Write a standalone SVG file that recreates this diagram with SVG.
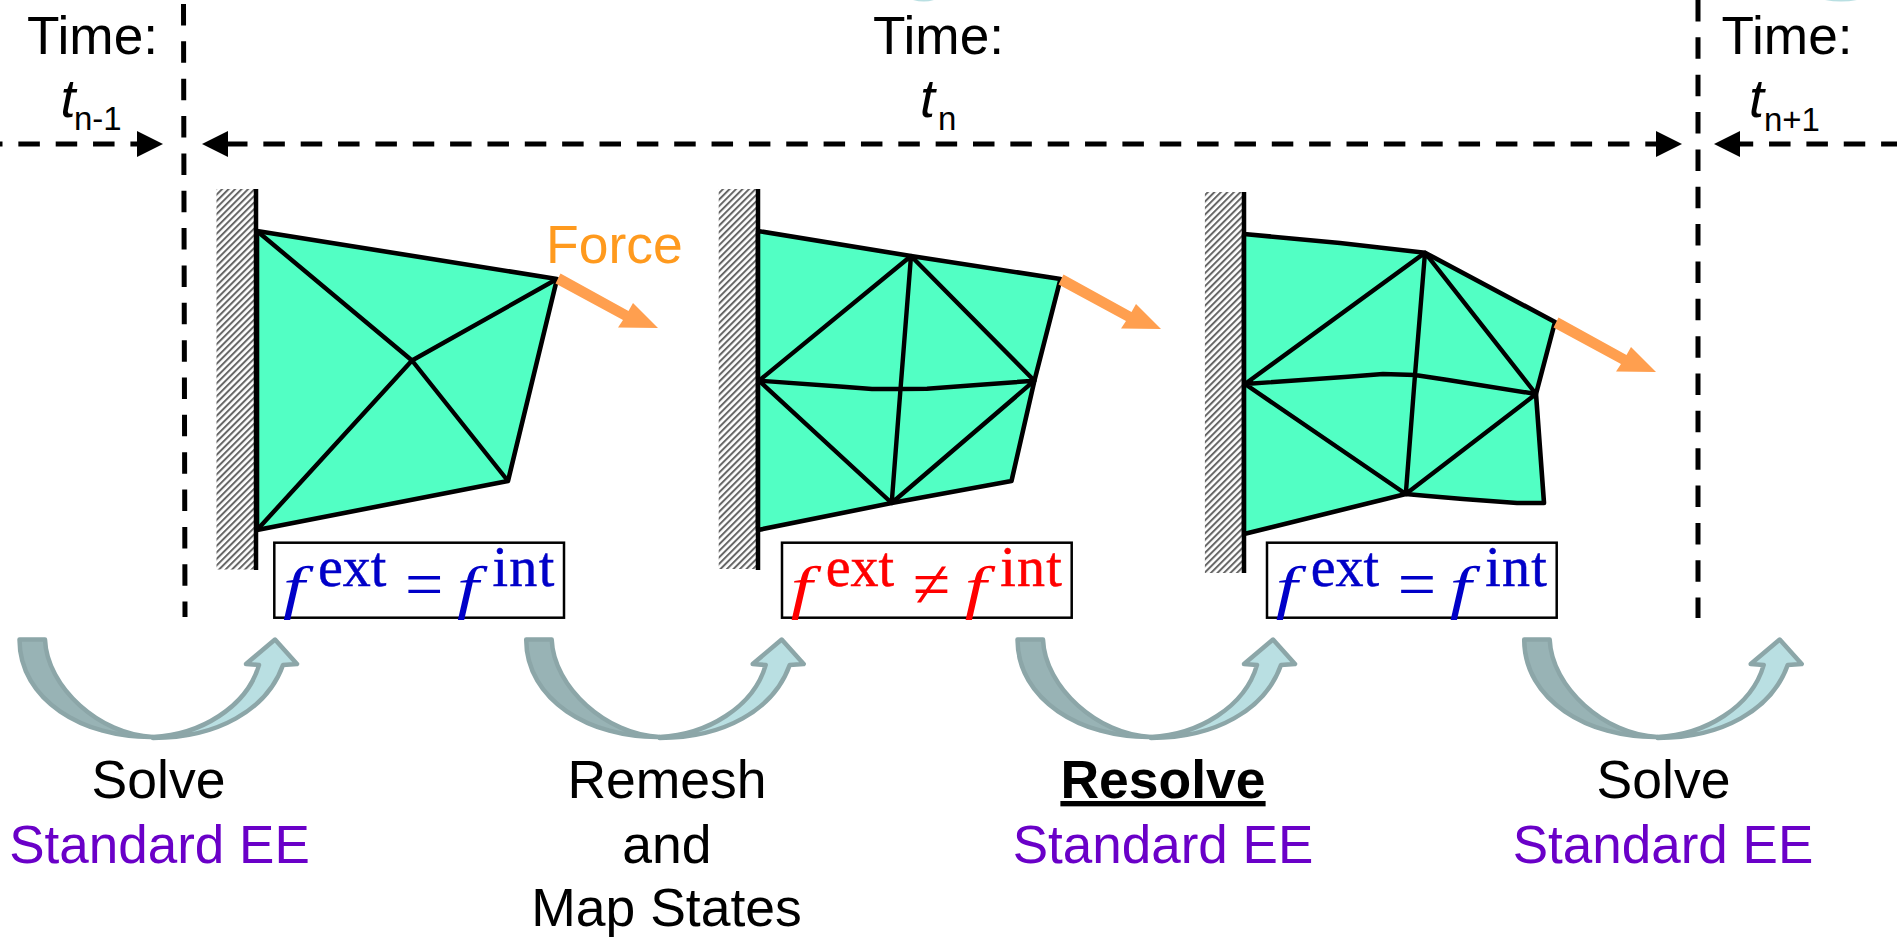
<svg xmlns="http://www.w3.org/2000/svg" xmlns:xlink="http://www.w3.org/1999/xlink" width="1897" height="937" viewBox="0 0 1897 937">
<style>
text{font-family:"Liberation Sans",Arial,sans-serif;font-size:53.5px;fill:#000}
.mid{text-anchor:middle}
.pur{fill:#6a00c8;font-size:53px}
.time{font-size:53.2px}
.tv{font-style:italic;font-size:54px}
.sub{font-size:33px}
.force{fill:#ff9a1e}
.m{font-family:"Liberation Serif","Times New Roman",serif;font-size:56px;stroke-width:.5}
.int{letter-spacing:1.3px}
.mi{font-style:italic;font-size:60px;stroke-width:0}
.op{font-size:68px;stroke-width:0}
.blue{fill:#0000c8;stroke:#0000c8}.red{fill:#ff0000;stroke:#ff0000}
.box{fill:#fff;stroke:#000;stroke-width:2.5}
.mesh{fill:#52ffc4;stroke:#000;stroke-width:4.6;stroke-linejoin:round}
.edge{fill:none;stroke:#000;stroke-width:4.4;stroke-linejoin:round}
.wl{stroke:#000;stroke-width:4.5}
.dash{fill:none;stroke:#000;stroke-width:5;stroke-dasharray:21.5 15.85}
.dk{fill:#98b3b5;stroke:#8ca6a8;stroke-width:4.5;stroke-linejoin:round}
.lt{fill:#b9dfe2;stroke:#8ca6a8;stroke-width:4.5;stroke-linejoin:round}
</style>
<defs>
<pattern id="hatch" width="4.6" height="4.6" patternUnits="userSpaceOnUse" patternTransform="rotate(-45)">
<rect width="4.6" height="4.6" fill="#fff"/><rect width="4.6" height="2" fill="#666"/>
</pattern>
<marker id="head" markerUnits="userSpaceOnUse" markerWidth="28" markerHeight="28" refX="2" refY="13" orient="auto-start-reverse" viewBox="0 0 28 28">
<path d="M0,0L26,13L0,26Z" fill="#000"/>
</marker>
<g id="curve">
<path class="dk" d="M19.5,639.5L45,639.5C46.7,687 100,735 153,737C83,738 19.5,700 19.5,639.5Z"/>
<path class="lt" d="M153,737C200,735 247,707 259,665L246,664L275,639.5L297,664L283,665C267,710 217,738 153,738Z"/>
</g>
<path id="farrow" fill="#ff9f4f" d="M560.5,273.6L628.5,310.9L633,303L658,328L618,327.5L623,319.9L555.5,283.4Z"/>
</defs>
<rect width="1897" height="937" fill="#fff"/>
<g id="slivers" fill="#b9dfe2">
<path d="M913,0H934Q924,3 913,0Z"/>
<path d="M1825,0H1857Q1841,3 1825,0Z"/>
</g>
<g id="connectors">
<path class="dash" d="M183.5,4L185,617"/>
<path class="dash" d="M1698,0V618"/>
<path class="dash" stroke-dashoffset="19" d="M0,144H139" marker-end="url(#head)"/>
<path class="dash" d="M226,144H1658" marker-start="url(#head)" marker-end="url(#head)"/>
<path class="dash" d="M1731.7,144H1897"/>
<path d="M1714,144L1740,131V157Z" fill="#000"/>
<use xlink:href="#curve" href="#curve"/>
<use xlink:href="#curve" href="#curve" x="506.7"/>
<use xlink:href="#curve" href="#curve" x="998"/>
<use xlink:href="#curve" href="#curve" x="1504.7"/>
</g>
<g id="mesh1">
<rect x="216.5" y="189" width="39" height="380.5" fill="url(#hatch)"/>
<line class="wl" x1="256" y1="189" x2="256" y2="570"/>
<path class="mesh" d="M257,231L557,279L508,481L257,530Z"/>
<path class="edge" d="M257,231L412,360.5L508,481M557,279L412,360.5L257,530"/>
<use xlink:href="#farrow" href="#farrow"/>
<text class="force" x="546" y="263">Force</text>
</g>
<g id="mesh2">
<rect x="718.7" y="189" width="39" height="380" fill="url(#hatch)"/>
<line class="wl" x1="758" y1="189" x2="758" y2="570"/>
<path class="mesh" d="M758,231L911,256L1060.5,279L1034.4,380.7L1011.5,481L891.7,503L758,530Z"/>
<path class="edge" d="M759,380.7L911,256L1034.4,380.7L891.7,503L759,380.7M911,256L900.5,389L891.7,503M759,380.7L843,386.7L872,389L900.5,389L927,388.7L977,385L1034.4,380.7"/>
<use xlink:href="#farrow" href="#farrow" x="503" y="1"/>
</g>
<g id="mesh3">
<rect x="1204.9" y="192" width="39" height="381" fill="url(#hatch)"/>
<line class="wl" x1="1244" y1="192" x2="1244" y2="573"/>
<path class="mesh" d="M1244,234L1340,243L1425,252.7L1555,322L1536,394L1544,503L1517,503L1463,499L1425,495.7L1405.8,494L1244,534Z"/>
<path class="edge" d="M1245,384L1425,252.7L1536,394L1405.8,494L1245,384M1425,252.7L1415,375L1405.8,494M1245,384L1348,376.7L1383,374L1415,375L1448,380L1536,394"/>
<use xlink:href="#farrow" href="#farrow" x="998" y="44"/>
</g>
<g id="eq1">
<rect class="box" x="274.3" y="542.7" width="289.7" height="75"/>
<text class="m mi blue" transform="translate(283 607) scale(1.3 1)">f</text><text class="m blue" x="318" y="586">ext</text>
<text class="m op blue" x="405" y="606.5">=</text>
<text class="m mi blue" transform="translate(457 607) scale(1.3 1)">f</text><text class="m int blue" x="492.5" y="586">int</text>
</g>
<g id="eq2">
<rect class="box" x="782" y="542.7" width="289.7" height="75"/>
<text class="m mi red" transform="translate(790.7 607) scale(1.3 1)">f</text><text class="m red" x="825.7" y="586">ext</text>
<text class="m op red" x="912.7" y="606.5">≠</text>
<text class="m mi red" transform="translate(964.7 607) scale(1.3 1)">f</text><text class="m int red" x="1000.2" y="586">int</text>
</g>
<g id="eq3">
<rect class="box" x="1267" y="542.7" width="289.7" height="75"/>
<text class="m mi blue" transform="translate(1275.7 607) scale(1.3 1)">f</text><text class="m blue" x="1310.7" y="586">ext</text>
<text class="m op blue" x="1397.7" y="606.5">=</text>
<text class="m mi blue" transform="translate(1449.7 607) scale(1.3 1)">f</text><text class="m int blue" x="1485.2" y="586">int</text>
</g>
<g id="time1">
<text class="time" x="27" y="53.5">Time:</text>
<text class="tv" x="60.5" y="117">t</text><text class="sub" x="74" y="130">n-1</text>
</g>
<g id="time2">
<text class="time" x="873" y="53.5">Time:</text>
<text class="tv" x="920" y="117">t</text><text class="sub" x="938" y="130">n</text>
</g>
<g id="time3">
<text class="time" x="1721.5" y="53.5">Time:</text>
<text class="tv" x="1749" y="117">t</text><text class="sub" x="1764" y="130.5">n+1</text>
</g>
<g id="label1">
<text class="mid" x="158.5" y="798">Solve</text>
<text class="mid pur" x="159.5" y="862.7">Standard EE</text>
</g>
<g id="label2">
<text class="mid" x="667" y="798">Remesh</text>
<text class="mid" x="667" y="862.7">and</text>
<text class="mid" x="666.5" y="925.7">Map States</text>
</g>
<g id="label3">
<text class="mid" x="1163" y="798" font-weight="bold" text-decoration="underline">Resolve</text>
<text class="mid pur" x="1163" y="862.7">Standard EE</text>
</g>
<g id="label4">
<text class="mid" x="1663.5" y="798">Solve</text>
<text class="mid pur" x="1663" y="862.7">Standard EE</text>
</g>
</svg>
